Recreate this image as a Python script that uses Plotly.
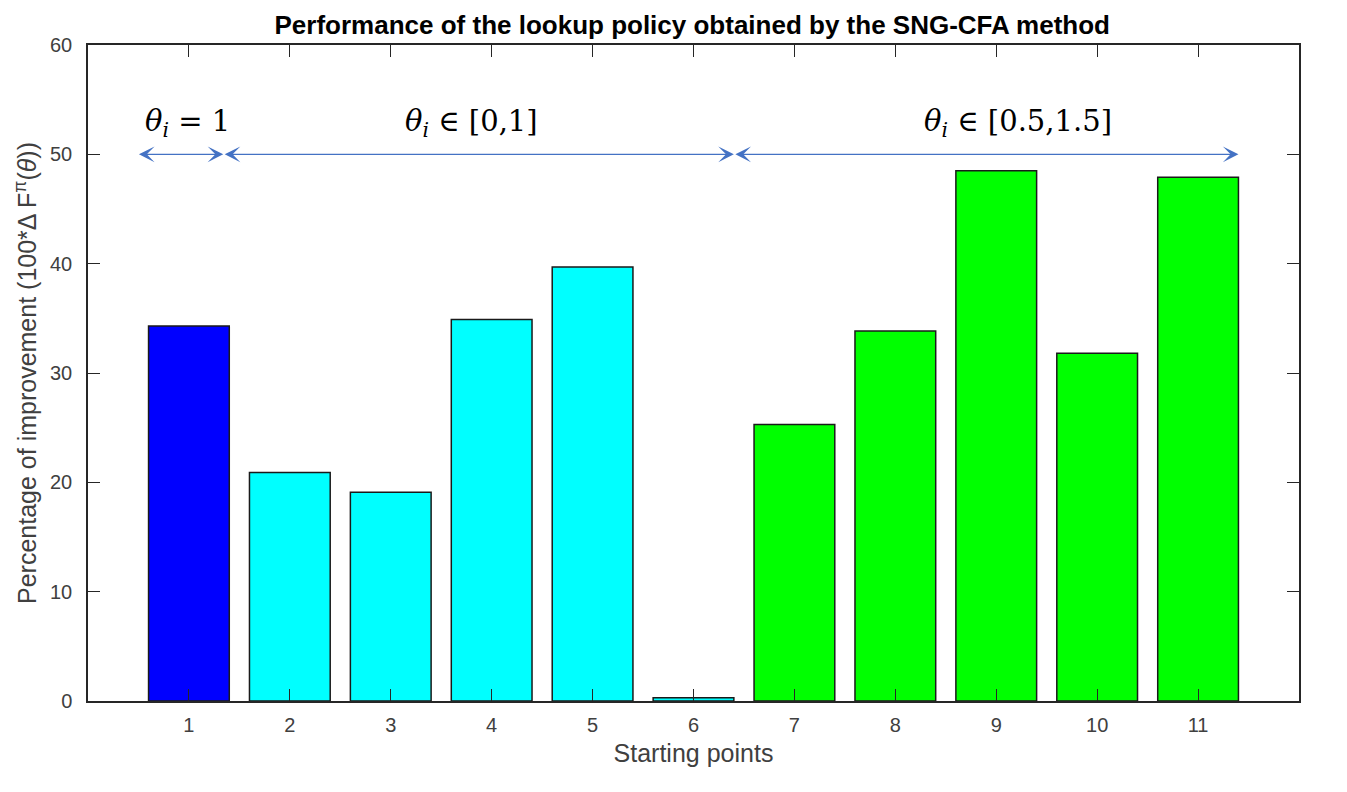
import plotly.graph_objects as go

starting_points = [1, 2, 3, 4, 5, 6, 7, 8, 9, 10, 11]
improvement = [34.3, 20.9, 19.1, 34.9, 39.7, 0.3, 25.3, 33.85, 48.5, 31.8, 47.9]
bar_colors = ["#0000FF"] + ["#00FFFF"] * 5 + ["#00FF00"] * 5

group_labels = ["<i>θ</i><sub><i>i</i></sub> = 1",
                "<i>θ</i><sub><i>i</i></sub> ∈ [0,1]",
                "<i>θ</i><sub><i>i</i></sub> ∈ [0.5,1.5]"]
group_spans = [(0.49, 1.34), (1.34, 6.4), (6.4, 11.4)]
label_x = [0.99, 3.8, 9.22]

fig = go.Figure()
fig.add_trace(go.Bar(
    x=starting_points, y=improvement, width=0.8,
    marker=dict(color=bar_colors, line=dict(color="#1a1a1a", width=1.5)),
    showlegend=False,
))

annotations = []
for (x0, x1) in group_spans:
    annotations.append(dict(
        x=x1, y=50, ax=x0, ay=50, xref="x", yref="y", axref="x", ayref="y",
        text="", showarrow=True, arrowhead=3, arrowside="end+start",
        arrowsize=2.0, arrowwidth=1.3, arrowcolor="#4472C4",
        standoff=0, startstandoff=0,
    ))
for lx, lab in zip(label_x, group_labels):
    annotations.append(dict(
        x=lx, y=50.9, xref="x", yref="y", text=lab, showarrow=False,
        yanchor="bottom",
        font=dict(family="DejaVu Serif", size=29, color="#000000"),
    ))

axis_common = dict(
    showline=True, linecolor="#262626", linewidth=1.5, mirror="ticks",
    ticks="inside", ticklen=12, tickwidth=1.2, tickcolor="#262626",
    showgrid=False, zeroline=False,
    tickfont=dict(family="Arial", size=20, color="#404040"),
)

fig.update_layout(
    width=1331, height=776,
    margin=dict(l=80, r=40, t=37, b=83),
    plot_bgcolor="white", paper_bgcolor="white",
    title=dict(text="<b>Performance of the lookup policy obtained by the SNG-CFA method</b>",
               x=0.5141, xanchor="center", y=0.978, yanchor="middle",
               font=dict(family="Arial", size=26, color="#000000")),
    xaxis=dict(range=[0, 12], tickvals=starting_points, ticklabelstandoff=5,
               title=dict(text="Starting points", standoff=10,
                          font=dict(family="Arial", size=25, color="#404040")),
               **axis_common),
    yaxis=dict(range=[0, 60], tickvals=[0, 10, 20, 30, 40, 50, 60], ticklabelstandoff=10,
               title=dict(text="Percentage of improvement (100*Δ F<sup>π</sup>(<i>θ</i>))", standoff=6,
                          font=dict(family="Arial", size=25, color="#404040")),
               **axis_common),
    annotations=annotations,
    bargap=0.2,
)

fig.write_html("out.html")
